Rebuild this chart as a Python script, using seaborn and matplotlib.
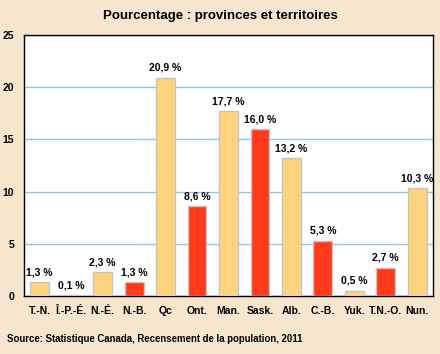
import numpy as np
import pandas as pd
import matplotlib
matplotlib.use('Agg')
import matplotlib.pyplot as plt
import seaborn as sns

# Données
provinces = ['T.-N.', 'Î.-P.-É.', 'N.-É.', 'N.-B.', 'Qc', 'Ont.', 'Man.',
             'Sask.', 'Alb.', 'C.-B.', 'Yuk.', 'T.N.-O.', 'Nun.']
pourcentages = [1.3, 0.1, 2.3, 1.3, 20.9, 8.6, 17.7, 16.0, 13.2, 5.3, 0.5, 2.7, 10.3]
etiquettes = ['1,3 %', '0,1 %', '2,3 %', '1,3 %', '20,9 %', '8,6 %', '17,7 %',
              '16,0 %', '13,2 %', '5,3 %', '0,5 %', '2,7 %', '10,3 %']

orange = '#FFD47E'
rouge = '#FF3B1C'
couleurs = [orange if i % 2 == 0 else rouge for i in range(len(provinces))]

sns.set_style('white')
plt.rcParams['font.family'] = ['Liberation Sans Narrow', 'Liberation Sans', 'DejaVu Sans']
plt.rcParams['font.weight'] = 'bold'
plt.rcParams['text.color'] = 'black'
plt.rcParams['xtick.color'] = 'black'
plt.rcParams['ytick.color'] = 'black'

fond = '#F6E6CD'
fig = plt.figure(figsize=(4.4, 3.54), dpi=100, facecolor=fond)
ax = fig.add_axes([24 / 440, 1 - 296 / 354, (433 - 24) / 440, (296 - 35) / 354])
ax.set_facecolor('white')

df = pd.DataFrame({'province': provinces, 'pct': pourcentages})
sns.barplot(data=df, x='province', y='pct', hue='province', palette=couleurs,
            legend=False, width=0.6, saturation=1, edgecolor='#C4C4C4',
            linewidth=1.0, ax=ax, zorder=3)

# étiquettes de valeur au-dessus des barres
for i, (v, lab) in enumerate(zip(pourcentages, etiquettes)):
    ax.annotate(lab, (i, v), xytext=(0, 3.5), textcoords='offset points',
                ha='center', va='bottom', fontsize=7.5, fontweight='bold')

ax.set_ylim(0, 25)
ax.set_xlim(-0.5, len(provinces) - 0.5)
ax.set_yticks(range(0, 26, 5))
ax.yaxis.grid(True, color='#8CC6E8', linewidth=1.0, zorder=0)
ax.set_axisbelow(True)
ax.set_xlabel('')
ax.set_ylabel('')

ax.set_xticks(np.arange(len(provinces)))
ax.set_xticklabels(provinces)
ax.set_xticks(np.arange(-0.5, len(provinces)), minor=True)
ax.tick_params(axis='x', which='major', length=0, pad=7, labelsize=7.5)
ax.tick_params(axis='x', which='minor', length=4, width=1, color='black', direction='out')
ax.tick_params(axis='y', length=4, width=1, color='black', direction='out',
               labelsize=7.5, pad=3)
for lab in ax.get_xticklabels() + ax.get_yticklabels():
    lab.set_fontweight('bold')

for s in ax.spines.values():
    s.set_visible(True)
    s.set_color('black')
    s.set_linewidth(1.0)

fig.text(0.5, 1 - 16 / 354, 'Pourcentage : provinces et territoires',
         ha='center', va='center', fontsize=9.5, fontweight='bold')
fig.text(7 / 440, 1 - 339 / 354, 'Source: Statistique Canada, Recensement de la population, 2011',
         ha='left', va='center', fontsize=6.9, fontweight='bold')

fig.savefig('out.png', dpi=100, facecolor=fond)
